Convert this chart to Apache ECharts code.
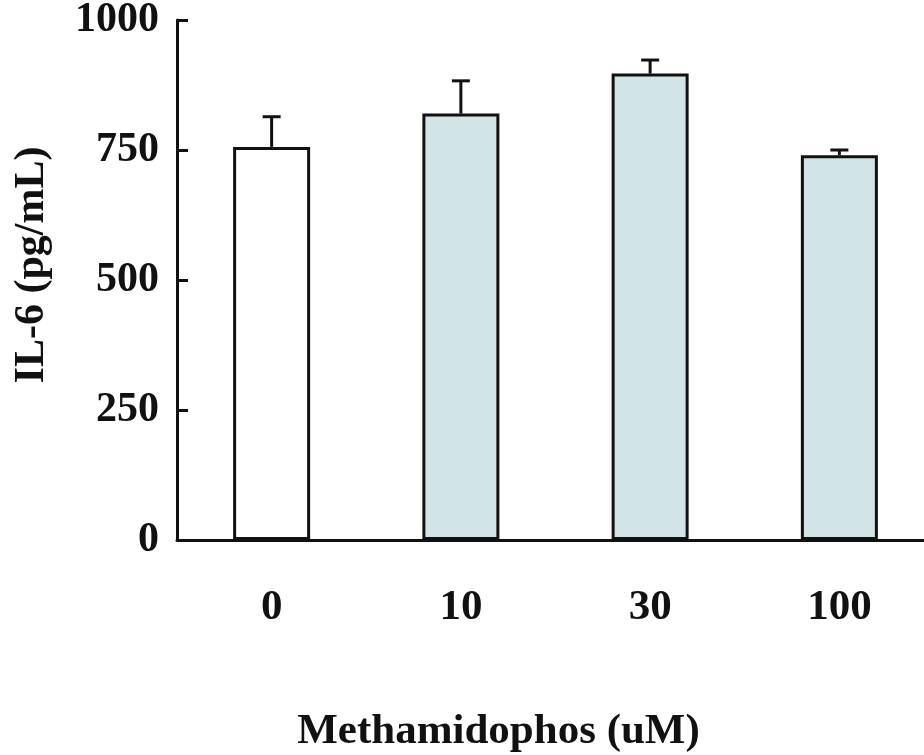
<!DOCTYPE html>
<html>
<head>
<meta charset="utf-8">
<title>IL-6</title>
<script src="https://cdn.jsdelivr.net/npm/echarts@6/dist/echarts.min.js"></script>
<style>
  html, body { margin: 0; padding: 0; background: #fff; }
  #chart { width: 924px; height: 755px; }
</style>
</head>
<body>
<div id="chart"></div>
<script>
var categories = ['0', '10', '30', '100'];
var means = [756, 820, 897, 740];
var upper = [814, 883, 923, 750];
var fills = ['#ffffff', '#d3e4e7', '#d3e4e7', '#d3e4e7'];
var yTicks = [0, 250, 500, 750, 1000];

var font = 'Liberation Serif';

var barData = [];
for (var i = 0; i < means.length; i++) {
  barData.push({ value: means[i], itemStyle: { color: fills[i] } });
}
var errData = [];
for (var i = 0; i < means.length; i++) {
  errData.push([i, means[i], upper[i]]);
}

var chart = echarts.init(document.getElementById('chart'));
var option = {
  animation: false,
  backgroundColor: '#ffffff',
  grid: { left: 177, right: -10, top: 20, bottom: 215, containLabel: false, outerBoundsMode: 'none' },
  xAxis: {
    type: 'category',
    data: categories,
    name: 'Methamidophos (uM)',
    nameLocation: 'middle',
    nameGap: 170,
    nameTextStyle: { fontFamily: font, fontWeight: 'bold', fontSize: 43, color: '#111', padding: [0, 114, 0, 0] },
    axisLine: { lineStyle: { color: '#111', width: 3 } },
    axisTick: { show: false },
    axisLabel: { fontFamily: font, fontWeight: 'bold', fontSize: 43, color: '#111', margin: 46 },
    splitLine: { show: false }
  },
  yAxis: {
    type: 'value',
    min: yTicks[0],
    max: yTicks[yTicks.length - 1],
    interval: 250,
    name: 'IL-6 (pg/mL)',
    nameLocation: 'middle',
    nameGap: 124,
    nameTextStyle: { fontFamily: font, fontWeight: 'bold', fontSize: 42, color: '#111', padding: [0, 0, 0, 30] },
    axisLine: { show: true, lineStyle: { color: '#111', width: 3 } },
    axisTick: { show: true, inside: true, length: 11, lineStyle: { color: '#111', width: 3 } },
    axisLabel: {
      fontFamily: font, fontWeight: 'bold', fontSize: 42, color: '#111', margin: 18,
      formatter: function (v) { return String(v); }
    },
    splitLine: { show: false }
  },
  series: [
    {
      type: 'bar',
      data: barData,
      barWidth: 77,
      itemStyle: { borderColor: '#111', borderWidth: 3 }
    },
    {
      type: 'custom',
      data: errData,
      z: 1,
      renderItem: function (params, api) {
        var x = api.value(0);
        var top = api.coord([x, api.value(2)]);
        var base = api.coord([x, api.value(1)]);
        var half = 9;
        return {
          type: 'group',
          children: [
            { type: 'line', shape: { x1: top[0], y1: top[1], x2: base[0], y2: base[1] },
              style: { stroke: '#111', lineWidth: 3 } },
            { type: 'line', shape: { x1: top[0] - half, y1: top[1], x2: top[0] + half, y2: top[1] },
              style: { stroke: '#111', lineWidth: 3 } }
          ]
        };
      }
    }
  ]
};
chart.setOption(option);
</script>
</body>
</html>
